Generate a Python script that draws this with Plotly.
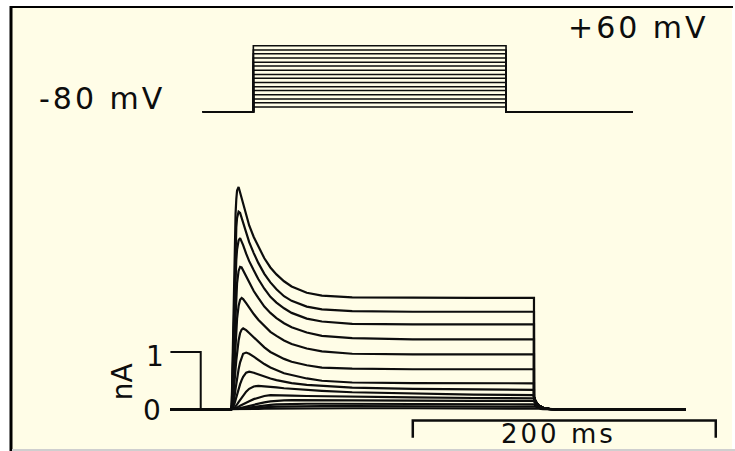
import plotly.graph_objects as go

# ---------------- data ----------------
# voltage protocol (top panel): holding -80 mV, 200 ms steps
V_HOLD = -80
V_T_START = -40
V_T_END = 300
V_STEP_ON = 0
V_STEP_OFF = 200
V_LEVELS = [-70, -61, -53, -44, -35, -27, -18, -9, -1, 8, 17, 25, 34, 43, 51, 60]

# current traces (bottom panel), time in ms, current in nA
T = [0, 0.5, 1, 1.5, 2, 2.5, 3, 3.5, 4, 5, 6, 7, 8, 10, 12, 15, 18, 22, 26,
     30, 35, 40, 50, 60, 80, 120, 160, 200]
TAIL_T = [200.01, 201, 203, 206, 210, 216]
BASE_T0 = -40
BASE_T1 = 300

I_01 = [0, 0.12, 0.8, 1.65, 2.4, 2.98, 3.4, 3.66, 3.81, 3.87, 3.77, 3.65, 3.55, 3.36, 3.2, 3.0, 2.83, 2.63, 2.47, 2.35, 2.23, 2.14, 2.03, 1.98, 1.95, 1.94, 1.94, 1.94,
        0.22, 0.14, 0.07, 0.03, 0.01, 0]
I_02 = [0, 0.08, 0.6, 1.35, 2.0, 2.5, 2.9, 3.17, 3.33, 3.44, 3.42, 3.33, 3.24, 3.06, 2.91, 2.72, 2.55, 2.36, 2.21, 2.09, 1.97, 1.89, 1.79, 1.74, 1.71, 1.70, 1.70, 1.70,
        0.22, 0.14, 0.07, 0.03, 0.01, 0]
I_03 = [0, 0.05, 0.4, 0.95, 1.5, 1.95, 2.33, 2.6, 2.78, 2.94, 2.98, 2.93, 2.86, 2.71, 2.58, 2.42, 2.27, 2.1, 1.96, 1.86, 1.76, 1.68, 1.58, 1.53, 1.49, 1.48, 1.48, 1.48,
        0.22, 0.14, 0.07, 0.03, 0.01, 0]
I_04 = [0, 0.03, 0.25, 0.62, 1.02, 1.4, 1.73, 2.0, 2.2, 2.41, 2.48, 2.47, 2.42, 2.31, 2.2, 2.06, 1.94, 1.79, 1.68, 1.59, 1.5, 1.43, 1.34, 1.28, 1.24, 1.22, 1.22, 1.22,
        0.22, 0.14, 0.07, 0.03, 0.01, 0]
I_05 = [0, 0.02, 0.14, 0.38, 0.65, 0.93, 1.18, 1.4, 1.58, 1.8, 1.91, 1.94, 1.92, 1.85, 1.77, 1.66, 1.56, 1.45, 1.35, 1.28, 1.2, 1.14, 1.06, 1.01, 0.97, 0.96, 0.96, 0.96,
        0.22, 0.14, 0.07, 0.03, 0.01, 0]
I_06 = [0, 0.01, 0.07, 0.2, 0.36, 0.53, 0.7, 0.86, 1.0, 1.2, 1.33, 1.39, 1.41, 1.38, 1.33, 1.25, 1.17, 1.08, 1.0, 0.94, 0.88, 0.83, 0.77, 0.73, 0.71, 0.70, 0.70, 0.70,
        0.22, 0.14, 0.07, 0.03, 0.01, 0]
I_07 = [0, 0.005, 0.03, 0.09, 0.17, 0.26, 0.36, 0.46, 0.55, 0.7, 0.82, 0.91, 0.97, 0.99, 0.97, 0.92, 0.86, 0.79, 0.73, 0.68, 0.63, 0.6, 0.54, 0.5, 0.47, 0.46, 0.456, 0.456,
        0.22, 0.14, 0.07, 0.03, 0.01, 0]
I_08 = [0, 0, 0.015, 0.04, 0.08, 0.12, 0.17, 0.22, 0.27, 0.36, 0.44, 0.51, 0.57, 0.64, 0.657, 0.64, 0.61, 0.57, 0.54, 0.51, 0.48, 0.46, 0.43, 0.41, 0.38, 0.36, 0.345, 0.34,
        0.22, 0.14, 0.07, 0.03, 0.01, 0]
I_09 = [0, 0, 0.005, 0.012, 0.02, 0.033, 0.05, 0.07, 0.09, 0.13, 0.17, 0.21, 0.25, 0.31, 0.36, 0.40, 0.41, 0.405, 0.395, 0.385, 0.37, 0.36, 0.34, 0.325, 0.30, 0.275, 0.26, 0.25,
        0.2, 0.13, 0.065, 0.03, 0.01, 0]
I_10 = [0, 0, 0.002, 0.005, 0.01, 0.015, 0.02, 0.027, 0.035, 0.05, 0.065, 0.08, 0.095, 0.12, 0.145, 0.18, 0.205, 0.235, 0.25, 0.25, 0.245, 0.24, 0.235, 0.23, 0.22, 0.21, 0.2, 0.195,
        0.18, 0.12, 0.06, 0.028, 0.01, 0]
I_11 = [0, 0, 0.001, 0.002, 0.004, 0.006, 0.008, 0.011, 0.014, 0.02, 0.027, 0.034, 0.041, 0.055, 0.068, 0.088, 0.105, 0.125, 0.14, 0.152, 0.16, 0.163, 0.163, 0.16, 0.157, 0.153, 0.15, 0.148,
        0.14, 0.1, 0.05, 0.024, 0.008, 0]
I_12 = [0, 0, 0, 0.001, 0.002, 0.003, 0.004, 0.005, 0.007, 0.01, 0.013, 0.017, 0.021, 0.03, 0.038, 0.05, 0.06, 0.072, 0.082, 0.089, 0.095, 0.098, 0.1, 0.1, 0.099, 0.098, 0.097, 0.096,
        0.09, 0.07, 0.04, 0.02, 0.007, 0]
I_13 = [0, 0, 0, 0, 0.001, 0.001, 0.002, 0.002, 0.003, 0.005, 0.007, 0.009, 0.011, 0.015, 0.02, 0.027, 0.033, 0.04, 0.046, 0.05, 0.054, 0.057, 0.06, 0.061, 0.061, 0.06, 0.06, 0.06,
        0.06, 0.05, 0.03, 0.015, 0.005, 0]
I_14 = [0, 0, 0, 0, 0, 0, 0.001, 0.001, 0.001, 0.002, 0.003, 0.004, 0.005, 0.006, 0.008, 0.01, 0.012, 0.015, 0.016, 0.018, 0.019, 0.02, 0.021, 0.022, 0.022, 0.022, 0.022, 0.022,
        0.022, 0.02, 0.015, 0.008, 0.003, 0]
CURRENTS = [I_01, I_02, I_03, I_04, I_05, I_06, I_07, I_08, I_09, I_10, I_11, I_12, I_13, I_14]

# scale bars
NA_BAR_T = [-40, -20, -20]
NA_BAR_I = [1, 1, 0]
MS_BAR_T = [120, 120, 320, 320]
MS_BAR_I = [-0.49, -0.19, -0.19, -0.49]

# labels
LBL_HOLD = "-80 mV"
LBL_TOP = "+60 mV"
LBL_ONE = "1"
LBL_ZERO = "0"
LBL_UNIT = "nA"
LBL_TIME = "200 ms"

# ---------------- figure ----------------
W, H = 735, 451
BG = "#FFFDE7"
INK = "#0d0d0d"

fig = go.Figure()

# voltage steps
for v in V_LEVELS:
    fig.add_trace(go.Scatter(
        x=[V_T_START, V_STEP_ON, V_STEP_ON, V_STEP_OFF, V_STEP_OFF, V_T_END],
        y=[V_HOLD, V_HOLD, v, v, V_HOLD, V_HOLD],
        mode="lines", line=dict(color=INK, width=1.6),
        xaxis="x2", yaxis="y2", hoverinfo="skip"))

# current traces
for cur in CURRENTS:
    fig.add_trace(go.Scatter(
        x=[BASE_T0] + T + TAIL_T + [BASE_T1],
        y=[0] + cur + [0],
        mode="lines", line=dict(color=INK, width=2.2),
        xaxis="x", yaxis="y", hoverinfo="skip"))

# scale bars
fig.add_trace(go.Scatter(x=NA_BAR_T, y=NA_BAR_I, mode="lines",
                         line=dict(color=INK, width=2), hoverinfo="skip"))
fig.add_trace(go.Scatter(x=MS_BAR_T, y=MS_BAR_I, mode="lines",
                         line=dict(color=INK, width=2.5), hoverinfo="skip"))

FAMILY = "DejaVu Sans, Liberation Sans, Arial"
FONT = dict(family=FAMILY, size=30, color=INK)
FONT_S = dict(family=FAMILY, size=28, color=INK)


def wide(s, sp=3):
    return '<span style="letter-spacing:%dpx">%s</span>' % (sp, s)


annotations = [
    dict(x=-120, y=-51, xref="x2", yref="y2", text=wide(LBL_HOLD), showarrow=False, font=FONT),
    dict(x=305, y=99, xref="x2", yref="y2", text=wide(LBL_TOP), showarrow=False, font=FONT),
    dict(x=-50, y=0.93, xref="x", yref="y", text=LBL_ONE, showarrow=False, font=FONT_S),
    dict(x=-52, y=-0.02, xref="x", yref="y", text=LBL_ZERO, showarrow=False, font=FONT_S),
    dict(x=-72, y=0.49, xref="x", yref="y", text=LBL_UNIT, showarrow=False, font=FONT_S, textangle=-90),
    dict(x=216, y=-0.42, xref="x", yref="y", text=wide(LBL_TIME), showarrow=False,
         font=dict(family=FAMILY, size=26, color=INK)),
]

shapes = [
    dict(type="rect", xref="paper", yref="paper", x0=12 / W, x1=732 / W, y0=1 - 449 / H, y1=1 - 7 / H,
         fillcolor=BG, line=dict(width=0), layer="below"),
    dict(type="line", xref="paper", yref="paper", x0=11 / W, x1=11 / W, y0=0, y1=1 - 6 / H,
         line=dict(color="#000000", width=3), layer="below"),
    dict(type="line", xref="paper", yref="paper", x0=10 / W, x1=733 / W, y0=1 - 7 / H, y1=1 - 7 / H,
         line=dict(color="#000000", width=2), layer="below"),
    dict(type="line", xref="paper", yref="paper", x0=12 / W, x1=1, y0=1 - 450 / H, y1=1 - 450 / H,
         line=dict(color="#cfcfcf", width=2), layer="below"),
]

fig.update_layout(
    width=W, height=H,
    margin=dict(l=0, r=0, t=0, b=0),
    paper_bgcolor="#FFFFFF", plot_bgcolor="rgba(0,0,0,0)",
    showlegend=False, hovermode=False,
    xaxis=dict(range=[-152.5, 332.7], visible=False, domain=[0, 1], fixedrange=True),
    yaxis=dict(range=[-0.7217, 7.1217], visible=False, domain=[0, 1], fixedrange=True),
    xaxis2=dict(range=[-200.5, 381.2], visible=False, overlaying="x", anchor="y2", fixedrange=True),
    yaxis2=dict(range=[-799.8, 156.95], visible=False, overlaying="y", anchor="x2", fixedrange=True),
    annotations=annotations,
    shapes=shapes,
)

fig.write_html("out.html", config=dict(displayModeBar=False))
